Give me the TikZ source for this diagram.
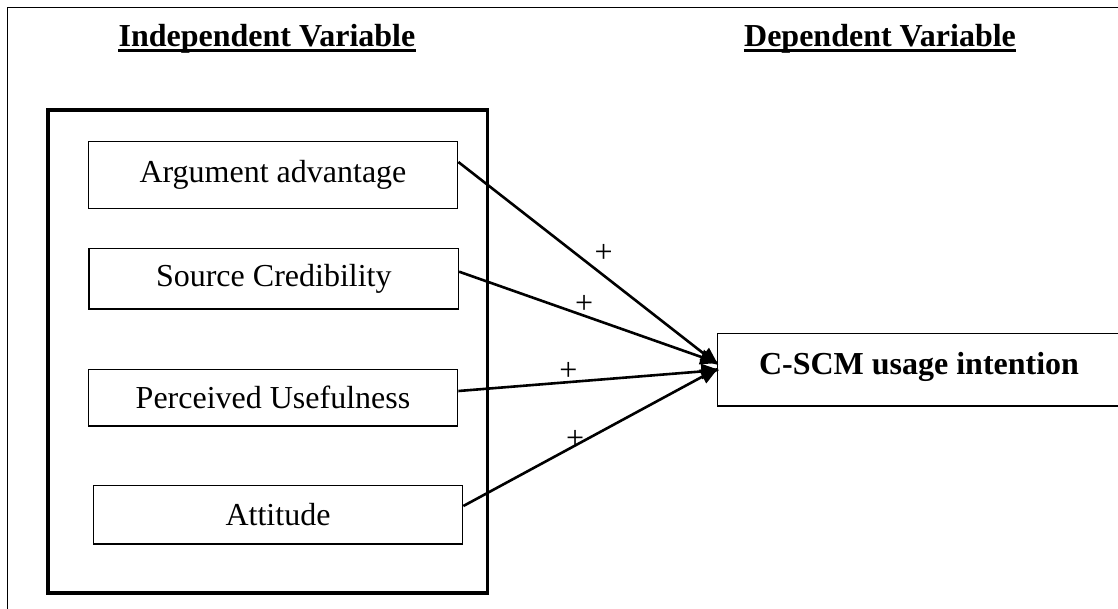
\documentclass[tikz,border=0pt]{standalone}
\usepackage{fontspec}
\setmainfont{Liberation Serif}
\usetikzlibrary{arrows.meta,calc}
\begin{document}
\begin{tikzpicture}[x=1pt,y=-1pt,
  bigfont/.style={font=\fontsize{32}{38}\selectfont},
  varbox/.style={draw,line width=1.3pt,inner sep=0pt,minimum width=369.4pt,
                 bigfont,text height=22pt},
  heading/.style={font=\fontsize{32}{38}\selectfont\bfseries,inner sep=0pt,anchor=base},
  link/.style={line width=2.6pt,-{Triangle[length=18pt,width=15pt]}},
  sign/.style={bigfont,inner sep=0pt}]
\useasboundingbox (0,0) rectangle (1118,608);
\clip (0,0) rectangle (1118,608);

% outer frame and the group of independent variables
\draw[line width=1.6pt] (7.5,7.5) rectangle (1140,640);
\draw[line width=3.6pt] (48,110) rectangle (487.5,592.7);

% headings
\node[heading] (ind) at (267,46.7) {Independent Variable};
\node[heading] (dv) at (880,46.7) {Dependent Variable};
\draw[line width=3pt] ($(ind.base west)+(0,4)$) -- ($(ind.base east)+(0,4)$);
\draw[line width=3pt] ($(dv.base west)+(0,4)$) -- ($(dv.base east)+(0,4)$);

% variables
\node[varbox,minimum height=66.6pt,text depth=7.4pt] (arg) at (273,175) {Argument advantage};
\node[varbox,minimum height=60.7pt,text depth=6pt] (src) at (273.8,278.7) {Source Credibility};
\node[varbox,minimum height=56.7pt,text depth=0.8pt] (per) at (273,397.7) {Perceived Usefulness};
\node[varbox,minimum height=58.3pt,text depth=0.2pt] (att) at (278,514.8) {Attitude};
\node[varbox,minimum width=403.4pt,minimum height=72.7pt,text depth=13.4pt,
      font=\fontsize{32}{38}\selectfont\bfseries] (dep) at (919,369.7) {C-SCM usage intention};

% arrow ends on the dependent variable
\coordinate (tA) at ($(dep.west)+(1.7,-4.7)$);
\coordinate (tS) at ($(dep.west)+(1.7,-6.7)$);
\coordinate (tP) at ($(dep.west)+(2.7,0.3)$);
\coordinate (tT) at ($(dep.west)+(1.7,-1.7)$);

% effects
\draw[link] ($(arg.east)+(0,-13)$) -- node[sign,pos=0.559,yshift=22.5pt] (pA) {+} (tA);
\draw[link] ($(src.east)+(0,-7)$) -- node[sign,pos=0.482,yshift=11.4pt] (pS) {+} (tS);
\draw[link] ($(per.east)+(0,-6.7)$) -- node[sign,pos=0.422,yshift=10.4pt] (pP) {+} (tP);
\draw[link] ($(att.east)+(0,-8.8)$) -- node[sign,pos=0.438,yshift=6.5pt] (pT) {+} (tT);
\end{tikzpicture}
\end{document}
